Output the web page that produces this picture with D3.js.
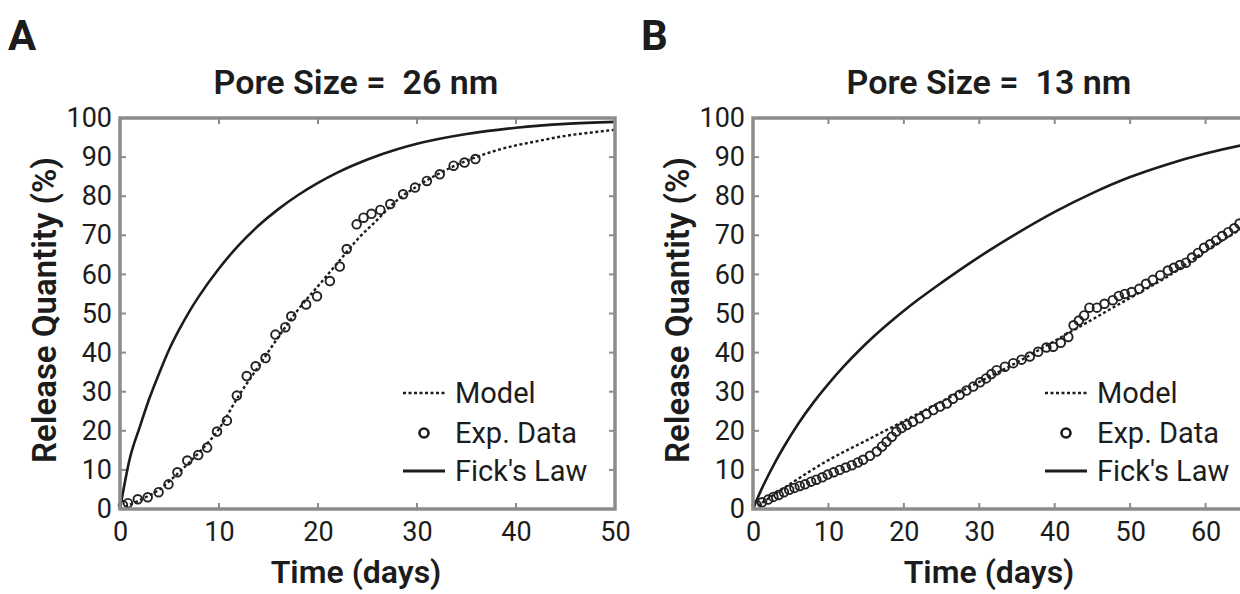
<!DOCTYPE html>
<html>
<head>
<meta charset="utf-8">
<script src="https://cdn.jsdelivr.net/npm/d3@7"></script>
<style>
  html, body { margin: 0; padding: 0; background: #fff; }
  svg { display: block; font-family: Roboto, "Noto Sans", sans-serif; }
</style>
</head>
<body>
<svg id="chart" width="1240" height="594"></svg>
<script>
// ---------------- DATA ----------------
const panelLetters = ["A", "B"];
const panelTitles = ["Pore Size =  26 nm", "Pore Size =  13 nm"];
const yTickValues = [0, 10, 20, 30, 40, 50, 60, 70, 80, 90, 100];
const xTickValuesA = [0, 10, 20, 30, 40, 50];
const xTickValuesB = [0, 10, 20, 30, 40, 50, 60];
const legendLabels = ["Model", "Exp. Data", "Fick's Law"];
const xAxisTitle = "Time (days)";
const yAxisTitle = "Release Quantity (%)";

// Panel A (26 nm) — [days, %]
const fickA = [[0,0],[1,13],[2,21],[3,28.5],[4,35],[5,41],[6,46],[7,50.5],[8,54.5],[10,61.5],[12,67.5],[14,72.5],[16,76.7],[18,80.3],[20,83.4],[22,86.1],[25,89.4],[28,92],[30,93.4],[35,95.9],[40,97.5],[45,98.5],[50,99]];
const modelA = [[0,0],[2,2.3],[4,5],[6,9.5],[8,14.5],[10,20.5],[12,29],[14,36.5],[16,44],[18,51],[20,57],[22,63],[24,69],[26,74],[28,79],[30,82.5],[32,85.5],[34,88],[36,90],[38,91.7],[40,93],[42,94],[44,95],[46,95.8],[48,96.4],[50,97]];
const dataA = [[0.3,1],[0.8,1.5],[1.8,2.5],[2.8,3],[3.9,4.3],[4.9,6.3],[5.8,9.4],[6.8,12.4],[7.9,13.8],[8.8,15.7],[9.8,19.8],[10.8,22.6],[11.8,29],[12.8,34],[13.7,36.5],[14.7,38.6],[15.7,44.6],[16.7,46.5],[17.3,49.3],[18.8,52.3],[19.9,54.4],[21.2,58.3],[22.2,62],[22.9,66.5],[23.9,72.8],[24.6,74.5],[25.4,75.5],[26.3,76.5],[27.3,78],[28.6,80.5],[29.8,82.2],[31,83.9],[32.3,85.6],[33.7,87.8],[34.8,88.6],[35.9,89.5]];

// Panel B (13 nm) — [days, %]
const fickB = [[0,0],[1,4.5],[2,8.5],[3,12.2],[4,15.6],[6,21.8],[8,27.2],[10,32],[12,36.4],[14,40.4],[16,44.1],[18,47.5],[20,50.7],[22,53.7],[25,57.9],[30,64.5],[35,70.5],[40,76],[45,80.8],[50,84.9],[55,88.2],[60,90.9],[65,93.1],[70,94.8]];
const modelB = [[0,0],[5,6.5],[10,12.5],[15,17.5],[20,22.5],[25,27.5],[30,32.5],[35,37.5],[40,43],[45,48.5],[50,54],[55,59.5],[60,66],[65,72],[70,78]];
const dataB = [[0.5,1],[1.2,1.7],[2,2.4],[2.7,3.1],[3.4,3.6],[4.1,4.3],[4.8,4.9],[5.5,5.4],[6.2,5.9],[6.9,6.3],[7.7,7],[8.4,7.5],[9.2,8.1],[9.9,8.8],[10.7,9.4],[11.5,10],[12.3,10.6],[13.1,11.2],[13.9,11.9],[14.6,12.6],[15.5,13.6],[16.4,14.7],[17.1,16],[17.7,17.2],[18.4,18.5],[19,19.8],[19.7,20.7],[20.4,21.5],[21.2,22.3],[22.1,23.2],[23,24.3],[23.9,25.3],[24.8,26.2],[25.7,27],[26.5,28.2],[27.4,29.2],[28.3,30.3],[29.2,31.3],[30.1,32.4],[30.9,33.4],[31.6,34.5],[32.3,35.5],[33.4,36.4],[34.5,37.3],[35.6,38.2],[36.7,39],[37.8,40.2],[38.9,41.3],[39.8,41.5],[40.8,42.5],[41.8,44],[42.5,47],[43.2,48.2],[43.9,49.5],[44.6,51.5],[45.6,51.5],[46.6,52.5],[47.7,53.4],[48.5,54.5],[49.3,55],[50.2,55.5],[51.2,56.3],[52.1,57.6],[53,58.6],[54,59.8],[55,61],[55.8,61.7],[56.6,62.4],[57.4,63],[58.2,64.3],[59,65.5],[59.8,66.8],[60.6,67.7],[61.4,68.7],[62.2,69.8],[63,70.8],[63.8,71.8],[64.5,73],[65.3,74]];

// ---------------- DRAW ----------------
const svg = d3.select("#chart");
const INK = "#1c1c1c";
const FRAME = "#8c8c8c";

const panels = [
  { letter: panelLetters[0], title: panelTitles[0], xDomain: [0, 50], xTicks: xTickValuesA,
    left: 120, right: 615, legendX: 403, fick: fickA, model: modelA, data: dataA },
  { letter: panelLetters[1], title: panelTitles[1], xDomain: [0, 70], xTicks: xTickValuesB,
    left: 753, right: 1281, legendX: 1045, fick: fickB, model: modelB, data: dataB }
];
const plotTop = 118, plotBottom = 509;

panels.forEach(p => {
  const g = svg.append("g");
  const x = d3.scaleLinear().domain(p.xDomain).range([p.left, p.right]);
  const y = d3.scaleLinear().domain([0, 100]).range([plotBottom, plotTop]);

  // panel letter
  g.append("text").attr("x", p.left - 112).attr("y", 50)
    .attr("font-size", 42).attr("font-weight", 700).attr("fill", INK).text(p.letter);

  // title
  g.append("text").attr("x", p.left + 236).attr("y", 94)
    .attr("text-anchor", "middle").attr("font-size", 34).attr("font-weight", 600)
    .style("white-space", "pre").attr("fill", INK).text(p.title);

  // data marks
  const line = d3.line().x(d => x(d[0])).y(d => y(d[1])).curve(d3.curveMonotoneX);
  g.append("path").datum(p.fick).attr("d", line)
    .attr("fill", "none").attr("stroke", INK).attr("stroke-width", 2.6);
  g.append("path").datum(p.model).attr("d", line)
    .attr("fill", "none").attr("stroke", INK).attr("stroke-width", 2.4)
    .attr("stroke-dasharray", "3,2.5");
  g.selectAll("circle.pt").data(p.data).enter().append("circle").attr("class", "pt")
    .attr("cx", d => x(d[0])).attr("cy", d => y(d[1])).attr("r", 4.3)
    .attr("fill", "none").attr("stroke", "#222").attr("stroke-width", 1.9);

  // axes (frame style)
  const axB = d3.axisBottom(x).tickValues(p.xTicks).tickSize(0).tickPadding(13).tickFormat(d3.format("d"));
  const axL = d3.axisLeft(y).tickValues(yTickValues).tickSize(0).tickPadding(8).tickFormat(d3.format("d"));
  const gb = g.append("g").attr("transform", `translate(0,${plotBottom})`).call(axB);
  const gl = g.append("g").attr("transform", `translate(${p.left},0)`).call(axL);
  [gb, gl].forEach(a => {
    a.select(".domain").remove();
    a.selectAll("text").attr("font-size", 27).attr("fill", INK).attr("font-family", "Roboto");
  });
  gb.selectAll("text").attr("dy", "0.71em");

  // inward ticks
  const innerX = p.xTicks.filter(v => v > p.xDomain[0] && v < p.xDomain[1]);
  const innerY = yTickValues.filter(v => v > 0 && v < 100);
  const tl = 6;
  g.selectAll("line.tb").data(innerX).enter().append("line")
    .attr("x1", d => x(d)).attr("x2", d => x(d)).attr("y1", plotBottom).attr("y2", plotBottom - tl)
    .attr("stroke", FRAME).attr("stroke-width", 2);
  g.selectAll("line.tt").data(innerX).enter().append("line")
    .attr("x1", d => x(d)).attr("x2", d => x(d)).attr("y1", plotTop).attr("y2", plotTop + tl)
    .attr("stroke", FRAME).attr("stroke-width", 2);
  g.selectAll("line.tl").data(innerY).enter().append("line")
    .attr("y1", d => y(d)).attr("y2", d => y(d)).attr("x1", p.left).attr("x2", p.left + tl)
    .attr("stroke", FRAME).attr("stroke-width", 2);
  g.selectAll("line.tr").data(innerY).enter().append("line")
    .attr("y1", d => y(d)).attr("y2", d => y(d)).attr("x1", p.right).attr("x2", p.right - tl)
    .attr("stroke", FRAME).attr("stroke-width", 2);

  // frame
  g.append("rect").attr("x", p.left).attr("y", plotTop)
    .attr("width", p.right - p.left).attr("height", plotBottom - plotTop)
    .attr("fill", "none").attr("stroke", FRAME).attr("stroke-width", 3.5);

  // axis titles
  g.append("text").attr("x", p.left + 236).attr("y", 583)
    .attr("text-anchor", "middle").attr("font-size", 32).attr("font-weight", 600)
    .attr("fill", INK).text(xAxisTitle);
  g.append("text").attr("transform", `translate(${p.left - 64},${310}) rotate(-90)`)
    .attr("text-anchor", "middle").attr("font-size", 33).attr("font-weight", 600)
    .attr("fill", INK).text(yAxisTitle);

  // legend
  const lx = p.legendX, ly = [393, 433, 471];
  const lg = g.append("g");
  lg.append("line").attr("x1", lx).attr("x2", lx + 42).attr("y1", ly[0]).attr("y2", ly[0])
    .attr("stroke", INK).attr("stroke-width", 2.4).attr("stroke-dasharray", "3,2.5");
  lg.append("circle").attr("cx", lx + 21).attr("cy", ly[1]).attr("r", 4.5)
    .attr("fill", "none").attr("stroke", INK).attr("stroke-width", 2.6);
  lg.append("line").attr("x1", lx).attr("x2", lx + 42).attr("y1", ly[2]).attr("y2", ly[2])
    .attr("stroke", INK).attr("stroke-width", 2.8);
  legendLabels.forEach((t, i) => {
    lg.append("text").attr("x", lx + 52).attr("y", ly[i] + 10)
      .attr("font-size", 29).attr("fill", INK).text(t);
  });
});
</script>
</body>
</html>
